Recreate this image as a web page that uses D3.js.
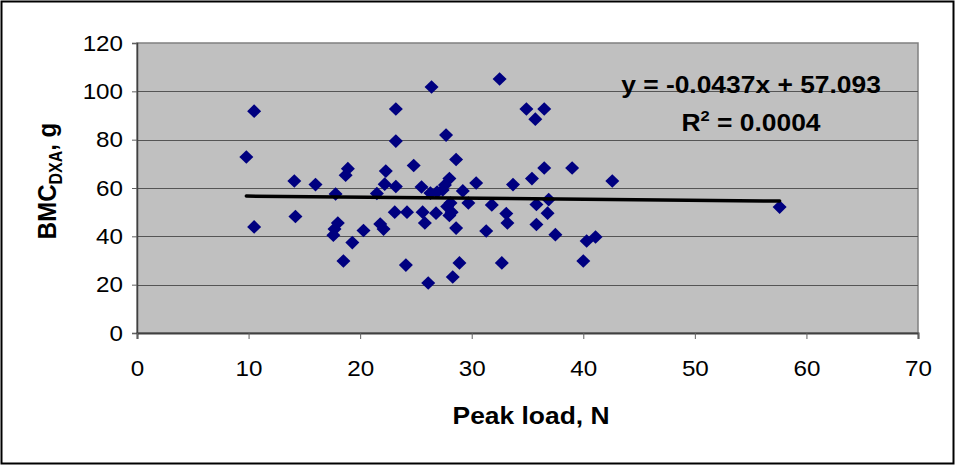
<!DOCTYPE html>
<html>
<head>
<meta charset="utf-8">
<script src="https://cdn.jsdelivr.net/npm/d3@7"></script>
<style>
  html, body { margin: 0; padding: 0; background: #fff; }
  svg { display: block; }
  text { font-family: "Liberation Sans", Arial, sans-serif; fill: #000; }
</style>
</head>
<body>
<svg id="chart" width="956" height="466"></svg>
<script>
// Peak load (N) for each specimen
const peakLoad = [
  9.8, 10.5, 10.5, 14.1, 14.2, 16.0, 17.8, 18.0, 17.7, 17.6,
  18.9, 18.7, 18.5, 19.3, 20.3, 21.5, 21.8, 22.1, 22.3, 22.2,
  23.2, 23.2, 23.2, 23.1, 24.2, 24.1, 24.8, 25.5, 25.6, 25.8,
  26.1, 26.3, 26.4, 26.8, 26.9, 27.4, 27.6, 27.7, 28.0, 27.8,
  28.1, 28.2, 28.0, 28.3, 28.6, 28.6, 28.9, 29.2, 29.7, 30.4,
  31.3, 31.8, 32.5, 32.7, 33.1, 33.2, 33.7, 34.9, 35.4, 35.7,
  35.8, 35.8, 36.5, 36.5, 36.9, 36.8, 37.5, 39.0, 40.0, 40.3,
  41.1, 42.6, 57.6
];
// Bone mineral content by DXA (g) for the same specimens
const bmcDxa = [
  72.8, 91.8, 43.9, 62.9, 48.2, 61.4, 57.5, 45.5, 43.0, 40.5,
  68.0, 65.3, 29.8, 37.4, 42.4, 57.7, 45.1, 43.0, 67.0, 61.6,
  60.6, 79.4, 92.7, 50.0, 50.0, 28.1, 69.3, 60.4, 50.0, 45.5,
  20.7, 57.9, 101.8, 49.6, 58.3, 59.2, 61.2, 81.9, 63.9, 52.3,
  53.8, 50.0, 48.6, 23.2, 43.4, 71.8, 29.0, 58.8, 53.8, 62.1,
  42.2, 53.0, 105.1, 29.0, 49.4, 45.5, 61.4, 92.7, 63.9, 88.5,
  53.2, 44.9, 92.7, 68.3, 55.2, 49.6, 40.7, 68.3, 29.8, 38.1,
  39.7, 62.9, 52.1
];

// Linear trendline reported on the chart
const trendSlope = -0.0437;
const trendIntercept = 57.093;
const rSquared = 0.0004;

const xTicks = [0, 10, 20, 30, 40, 50, 60, 70];
const yTicks = [0, 20, 40, 60, 80, 100, 120];

const xTitle = "Peak load, N";
const yTitleMain = "BMC";
const yTitleSub = "DXA";
const yTitleTail = ", g";

const svg = d3.select("#chart");
const plot = { left: 137, right: 918, top: 43, bottom: 333 };
const SX = 1.1; // text is drawn slightly wide

const x = d3.scaleLinear().domain([0, 70]).range([plot.left, plot.right]);
const y = d3.scaleLinear().domain([0, 120]).range([plot.bottom, plot.top]);

// outer chart frame
svg.append("rect")
  .attr("x", 1.5).attr("y", 1.5)
  .attr("width", 952).attr("height", 462)
  .attr("fill", "#fff").attr("stroke", "#000").attr("stroke-width", 2);

// plot background
svg.append("rect")
  .attr("x", plot.left).attr("y", plot.top)
  .attr("width", plot.right - plot.left).attr("height", plot.bottom - plot.top)
  .attr("fill", "#c0c0c0")
  .attr("stroke", "#808080").attr("stroke-width", 1.5);

// horizontal gridlines
svg.append("g")
  .selectAll("line")
  .data(yTicks.filter(v => v > 0 && v < 120))
  .join("line")
  .attr("x1", plot.left).attr("x2", plot.right)
  .attr("y1", d => Math.round(y(d)) + 0.5).attr("y2", d => Math.round(y(d)) + 0.5)
  .attr("stroke", "#555").attr("stroke-width", 1);

// y axis
const yAxis = svg.append("g")
  .attr("transform", `translate(${plot.left},0)`)
  .call(d3.axisLeft(y).tickValues(yTicks).tickSize(5).tickPadding(9).tickFormat(d3.format("d")));
yAxis.select(".domain").attr("stroke", "#404040").attr("stroke-width", 1.5);
yAxis.selectAll(".tick line").attr("stroke", "#606060");
yAxis.selectAll(".tick text")
  .attr("font-size", 22)
  .attr("font-family", "Liberation Sans, Arial, sans-serif")
  .attr("transform", `scale(${SX},1)`)
  .attr("x", -14 / SX);

// x axis
const xAxis = svg.append("g")
  .attr("transform", `translate(0,${plot.bottom})`)
  .call(d3.axisBottom(x).tickValues(xTicks).tickSize(6).tickPadding(21).tickFormat(d3.format("d")));
xAxis.select(".domain").attr("stroke", "#404040").attr("stroke-width", 2);
xAxis.selectAll(".tick line").attr("stroke", "#606060");
xAxis.selectAll(".tick text")
  .attr("font-size", 22)
  .attr("font-family", "Liberation Sans, Arial, sans-serif")
  .attr("transform", `scale(${SX},1)`);

// data markers (diamonds)
const diamond = "M0,-6.8L7,0L0,6.8L-7,0Z";
svg.append("g")
  .selectAll("path")
  .data(peakLoad.map((v, i) => [v, bmcDxa[i]]))
  .join("path")
  .attr("d", diamond)
  .attr("transform", d => `translate(${x(d[0])},${y(d[1])})`)
  .attr("fill", "#000080");

// trendline across the range of the data
const xMin = d3.min(peakLoad), xMax = d3.max(peakLoad);
svg.append("line")
  .attr("x1", x(xMin)).attr("y1", y(trendSlope * xMin + trendIntercept))
  .attr("x2", x(xMax)).attr("y2", y(trendSlope * xMax + trendIntercept))
  .attr("stroke", "#000").attr("stroke-width", 3.5).attr("stroke-linecap", "round");

// helper for widened text
function wideText(g, tx, ty, anchor) {
  return g.append("text")
    .attr("transform", `translate(${tx},${ty}) scale(${SX},1)`)
    .attr("text-anchor", anchor);
}

// trendline equation and R²
const eq = wideText(svg, 751, 93, "middle")
  .attr("font-size", 24).attr("font-weight", "bold");
eq.text(`y = ${trendSlope}x + ${trendIntercept.toFixed(3)}`);

const r2 = wideText(svg, 751, 131, "middle")
  .attr("font-size", 24).attr("font-weight", "bold");
r2.append("tspan").text("R");
r2.append("tspan").attr("font-size", 15).attr("dy", -10).text("2");
r2.append("tspan").attr("dy", 10).text(` = ${rSquared.toFixed(4)}`);

// x axis title
wideText(svg, 531, 424, "middle")
  .attr("font-size", 24).attr("font-weight", "bold")
  .text(xTitle);

// y axis title (rotated, with subscript)
const yt = svg.append("text")
  .attr("transform", `translate(56,181) scale(${SX},1) rotate(-90)`)
  .attr("text-anchor", "middle")
  .attr("font-size", 24).attr("font-weight", "bold");
yt.append("tspan").text(yTitleMain);
yt.append("tspan").attr("font-size", 16).attr("dy", 5).text(yTitleSub);
yt.append("tspan").attr("dy", -5).text(yTitleTail);
</script>
</body>
</html>
